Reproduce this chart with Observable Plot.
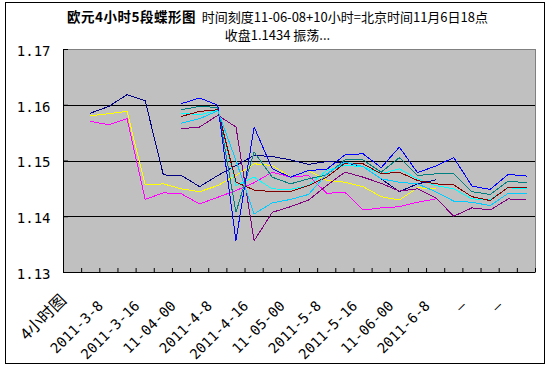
<!DOCTYPE html>
<html><head><meta charset="utf-8">
<script src="https://cdn.jsdelivr.net/npm/d3@7"></script>
<script src="https://cdn.jsdelivr.net/npm/@observablehq/plot@0.6"></script>
<style>
body{margin:0;background:#fff;}
#wrap{position:relative;width:551px;height:366px;overflow:hidden;background:#fff;}
#frame{position:absolute;left:5px;top:2px;width:540px;height:362px;border:1px solid #000;box-sizing:border-box;pointer-events:none;}
.t{position:absolute;left:2px;width:551px;text-align:center;font-family:"Noto Sans CJK SC",sans-serif;font-size:13px;line-height:16px;color:#000;white-space:nowrap;}
.t b{font-size:13.5px;letter-spacing:0.5px;}
#chart{position:absolute;left:0;top:0;}
</style></head>
<body>
<div id="wrap">
  <div id="chart"></div>
  <div id="frame"></div>
  <div class="t" style="top:8px"><b>欧元4小时5段蝶形图</b>&nbsp;&nbsp;时间刻度11-06-08+10小时=北京时间11月6日18点</div>
  <div class="t" style="top:27px">收盘1.1434 振荡...</div>
</div>
<script>
const categories = ["4小时图","","2011-3-8","","2011-3-16","","11-04-00","","2011-4-8","","2011-4-16","","11-05-00","","2011-5-8","","2011-5-16","","11-06-00","","2011-6-8","","—","","—",""];
const yTicks = [1.13, 1.14, 1.15, 1.16, 1.17];
const _ = null;
const navy    = [_,1.1586,1.1598,1.1619,1.1608,1.1475,1.1474,1.1454,1.1474,1.1492,1.1510,1.1508,1.1502,1.1494,1.1499,1.1497,1.1490,1.1468,1.1445,1.1459,1.1466,_,_,_,_,_];
const magenta = [_,1.1571,1.1565,1.1576,1.1431,1.1443,1.1441,1.1423,1.1435,1.1447,1.1461,1.1480,1.1471,1.1474,1.1442,1.1444,1.1412,1.1416,1.1418,1.1426,1.1432,_,_,_,_,_];
const yellow  = [_,1.1581,1.1585,1.1589,1.1457,1.1459,1.1450,1.1445,1.1456,1.1474,1.1495,1.1492,1.1471,1.1483,1.1465,1.1462,1.1454,1.1436,1.1430,1.1452,1.1450,_,_,_,_,_];
const cyan    = [_,_,_,_,_,_,1.1586,1.1583,1.1591,1.1456,1.1471,1.1450,1.1449,1.1456,1.1483,1.1492,1.1490,1.1477,1.1486,1.1468,1.1456,1.1450,1.1432,1.1431,1.1452,1.1450];
const purple  = [_,_,_,_,_,_,1.1558,1.1561,1.1582,1.1561,1.1357,1.1408,1.1418,1.1430,1.1456,1.1480,1.1471,1.1460,1.1446,1.1450,1.1434,1.1401,1.1416,1.1412,1.1432,1.1430];
const darkred = [_,_,_,_,_,_,1.1580,1.1589,1.1592,1.1462,1.1448,1.1445,1.1445,1.1456,1.1471,1.1496,1.1495,1.1477,1.1480,1.1465,1.1459,1.1457,1.1436,1.1429,1.1453,1.1452];
const teal    = [_,_,_,_,_,_,1.1592,1.1598,1.1596,1.1408,1.1516,1.1471,1.1459,1.1468,1.1475,1.1502,1.1502,1.1480,1.1506,1.1474,1.1477,1.1477,1.1445,1.1440,1.1464,1.1461];
const blue    = [_,_,_,_,_,_,1.1603,1.1613,1.1600,1.1357,1.1561,1.1486,1.1471,1.1483,1.1485,1.1511,1.1513,1.1488,1.1525,1.1479,1.1491,1.1506,1.1455,1.1449,1.1476,1.1473];
const skyblue = [_,_,_,_,_,_,1.1568,1.1576,1.1590,1.1501,1.1405,1.1425,1.1431,1.1440,1.1477,1.1498,1.1490,1.1468,1.1462,1.1459,1.1445,1.1428,1.1426,1.1420,1.1442,1.1441];

const series = [
  {name:"s1", color:"#000080", values:navy},
  {name:"s2", color:"#FF00FF", values:magenta},
  {name:"s3", color:"#FFFF00", values:yellow},
  {name:"s4", color:"#00FFFF", values:cyan},
  {name:"s5", color:"#800080", values:purple},
  {name:"s6", color:"#800000", values:darkred},
  {name:"s7", color:"#008080", values:teal},
  {name:"s8", color:"#0000FF", values:blue},
  {name:"s9", color:"#00CCFF", values:skyblue}
];
const table = series.flatMap(s => s.values.map((v, i) => ({s: s.name, c: s.color, i, v})).filter(d => d.v != null));
const labels = categories.map((t, i) => ({t, i})).filter(d => d.t !== "");
const isCJK = d => /[\u4e00-\u9fff]/.test(d.t);
const n = categories.length;

const chart = Plot.plot({
  width: 551, height: 366,
  marginLeft: 63, marginRight: 16, marginTop: 49, marginBottom: 94,
  x: {domain: [0, n], axis: null, label: null},
  y: {domain: [yTicks[0], yTicks[yTicks.length-1]], axis: null, label: null},
  color: {type: "identity"},
  style: {background: "transparent", overflow: "visible"},
  marks: [
    Plot.frame({fill: "#C0C0C0", stroke: "#808080"}),
    Plot.ruleY(yTicks.slice(1, -1), {stroke: "#000", shapeRendering: "crispEdges"}),
    Plot.axisX({ticks: d3.range(n + 1), tickSize: 4, dy: -4, tickFormat: () => "", stroke: "#000", label: null}),
    Plot.axisY({ticks: yTicks, anchor: "left", tickSize: 5, dx: 5, tickFormat: () => "", stroke: "#000", label: null}),
    Plot.axisY({ticks: yTicks, anchor: "left", tickSize: 0, tickPadding: 13, dy: 2, tickFormat: d3.format(".2f"),
      fontSize: 14, fontFamily: "DejaVu Sans Mono", fill: "#000", label: null}),
    Plot.line(table, {x: d => d.i + 0.5, y: "v", z: "s", stroke: "c", strokeWidth: 1, shapeRendering: "crispEdges"}),
    Plot.ruleY([yTicks[0]], {stroke: "#000", shapeRendering: "crispEdges"}),
    Plot.ruleX([0], {stroke: "#000", shapeRendering: "crispEdges"}),
    Plot.text(labels.filter(d => !isCJK(d)), {x: d => d.i + 0.5, y: yTicks[0], text: "t", rotate: -45, textAnchor: "end",
      dx: -8, dy: 31, fontSize: 14, fontFamily: "DejaVu Sans Mono", fill: "#000"}),
    Plot.text(labels.filter(isCJK), {x: d => d.i + 0.5, y: yTicks[0], text: "t", rotate: -45, textAnchor: "end",
      dx: -9, dy: 25, fontSize: 16, fontFamily: "Noto Sans CJK SC", fill: "#000"})
  ]
});
document.getElementById("chart").appendChild(chart);
</script>
</body></html>
